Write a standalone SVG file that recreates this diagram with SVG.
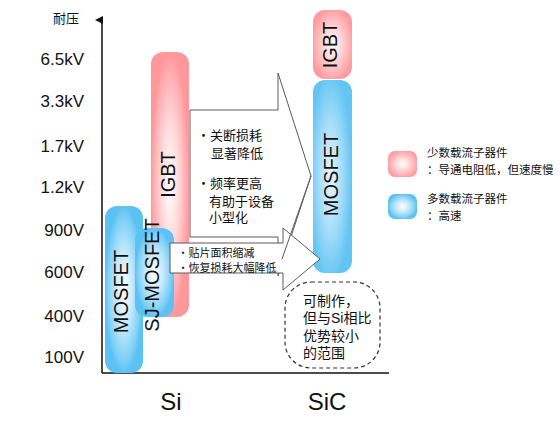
<svg xmlns="http://www.w3.org/2000/svg" width="560" height="423" viewBox="0 0 560 423">
<defs>
<radialGradient id="gBlue" cx="0.5" cy="0.5" r="0.5">
<stop offset="0" stop-color="#ffffff"/>
<stop offset="0.45" stop-color="#c6e9fb"/>
<stop offset="0.85" stop-color="#7fd0f7"/>
<stop offset="1" stop-color="#5cc2f3"/>
</radialGradient>
<radialGradient id="gPink" cx="0.5" cy="0.5" r="0.5">
<stop offset="0" stop-color="#ffffff"/>
<stop offset="0.45" stop-color="#ffdadb"/>
<stop offset="0.85" stop-color="#ffadb0"/>
<stop offset="1" stop-color="#ff979b"/>
</radialGradient>
<radialGradient id="gBlueSiC" cx="0.45" cy="0.5" r="0.55">
<stop offset="0" stop-color="#eaf7fe"/>
<stop offset="0.5" stop-color="#a9def9"/>
<stop offset="1" stop-color="#62c5f4"/>
</radialGradient>
<radialGradient id="gPinkSiC" cx="0.5" cy="0.5" r="0.55">
<stop offset="0" stop-color="#ffffff"/>
<stop offset="0.5" stop-color="#ffcfd1"/>
<stop offset="1" stop-color="#ff9a9e"/>
</radialGradient>
<marker id="axArrow" markerWidth="8" markerHeight="8" refX="4" refY="7" orient="auto" markerUnits="userSpaceOnUse" viewBox="0 0 8 8">
<path d="M0,8 L4,0 L8,8 Z" fill="#111"/>
</marker>
</defs>
<style>
.lat{font-family:"Liberation Sans",Arial,sans-serif;fill:#111}
.cjk{font-family:"Liberation Sans","Noto Sans CJK SC",sans-serif;fill:#111}
.ylab{font-size:17px;text-anchor:end}
.dev{font-size:20px;text-anchor:middle}
.arr{fill:#fff;stroke:#5a5a5a;stroke-width:1}
</style>

<g id="axes">
<line x1="102" y1="373" x2="102" y2="20" stroke="#111" stroke-width="1.5" marker-end="url(#axArrow)"/>
<line x1="102" y1="373" x2="389" y2="373" stroke="#111" stroke-width="1.5"/>
<text class="cjk" x="53" y="23" font-size="13">耐压</text>
<text class="lat ylab" x="84" y="65">6.5kV</text>
<text class="lat ylab" x="84" y="107">3.3kV</text>
<text class="lat ylab" x="84" y="152">1.7kV</text>
<text class="lat ylab" x="84" y="193">1.2kV</text>
<text class="lat ylab" x="84" y="236">900V</text>
<text class="lat ylab" x="84" y="278">600V</text>
<text class="lat ylab" x="84" y="322">400V</text>
<text class="lat ylab" x="84" y="363">100V</text>
<text class="lat" x="171" y="410" font-size="24" text-anchor="middle">Si</text>
<text class="lat" x="327" y="410" font-size="24" text-anchor="middle">SiC</text>
</g>

<g id="si-igbt">
<rect x="151" y="52" width="38" height="265" rx="12" fill="url(#gPink)"/>
<text class="lat dev" transform="translate(174.5,174.5) rotate(-90)">IGBT</text>
</g>

<g id="si-mosfet">
<rect x="105" y="206" width="38" height="167" rx="12" fill="url(#gBlue)"/>
<text class="lat dev" transform="translate(127.5,291.5) rotate(-90)">MOSFET</text>
</g>

<g id="si-sj-mosfet">
<rect x="135" y="228" width="39" height="89" rx="12" fill="url(#gBlue)"/>
<text class="lat dev" transform="translate(159,275) rotate(-90)">SJ-MOSFET</text>
</g>

<g id="sic-igbt">
<rect x="313" y="10" width="39" height="69" rx="12" fill="url(#gPinkSiC)"/>
<text class="lat dev" transform="translate(337,45) rotate(-90)">IGBT</text>
</g>

<g id="sic-mosfet">
<rect x="313" y="80" width="39" height="193" rx="12" fill="url(#gBlueSiC)"/>
<text class="lat dev" transform="translate(337.5,174.5) rotate(-90)">MOSFET</text>
</g>

<g id="connectors">
<g id="big-arrow">
<polygon class="arr" points="190,110 278,110 278,73 311,176 278,276 278,237 190,237"/>
<text class="cjk" font-size="13" x="197" y="139.5">・关断损耗</text>
<text class="cjk" font-size="13" x="211" y="157.5">显著降低</text>
<text class="cjk" font-size="13" x="197" y="187.5">・频率更高</text>
<text class="cjk" font-size="13" x="209" y="205.5">有助于设备</text>
<text class="cjk" font-size="13" x="209" y="221.5">小型化</text>
</g>
<g id="small-arrow">
<polygon class="arr" points="170,243 283,243 283,228 320,259 283,290 283,273 170,273"/>
<line x1="311" y1="176" x2="282" y2="259" stroke="#5a5a5a" stroke-width="1"/>
<text class="cjk" font-size="11" x="177.5" y="257">・贴片面积缩减</text>
<text class="cjk" font-size="11" x="177.5" y="271.5">・恢复损耗大幅降低</text>
</g>
</g>

<g id="note">
<rect x="285" y="282" width="95" height="86" rx="26" fill="none" stroke="#333" stroke-width="1.2" stroke-dasharray="4,3"/>
<text class="cjk" font-size="14" x="303" y="305.5">可制作，</text>
<text class="cjk" font-size="14" x="303" y="323">但与Si相比</text>
<text class="cjk" font-size="14" x="303" y="341">优势较小</text>
<text class="cjk" font-size="14" x="303" y="358">的范围</text>
</g>

<g id="legend">
<rect x="388" y="151" width="29" height="26" rx="7" fill="url(#gPinkSiC)"/>
<text class="cjk" font-size="11.5" x="427" y="157">少数载流子器件</text>
<text class="cjk" font-size="11.5" x="427" y="173.5">：导通电阻低，但速度慢</text>
<rect x="388" y="194" width="29" height="25" rx="7" fill="url(#gBlue)"/>
<text class="cjk" font-size="11.5" x="427" y="203">多数载流子器件</text>
<text class="cjk" font-size="11.5" x="427" y="219.5">：高速</text>
</g>
</svg>
